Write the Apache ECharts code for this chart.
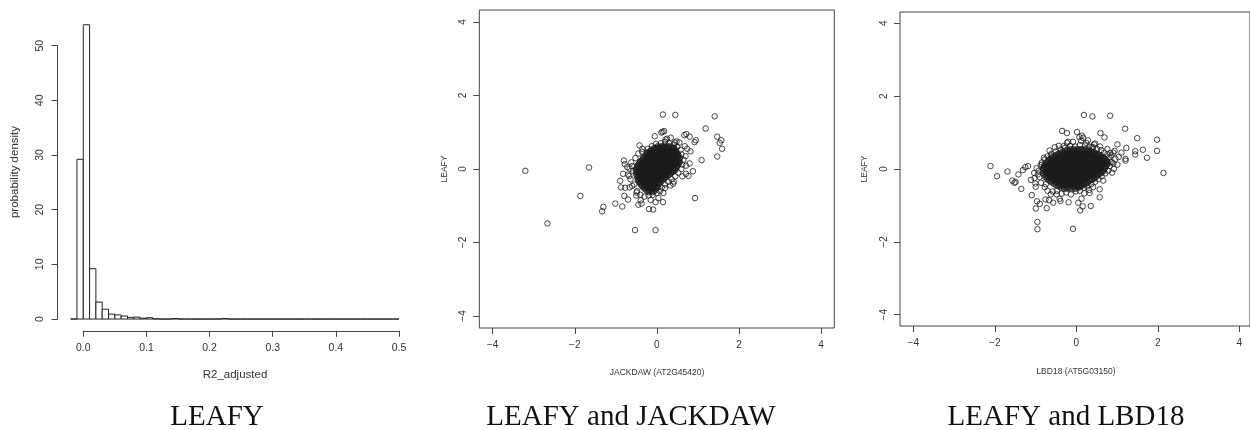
<!DOCTYPE html>
<html>
<head>
<meta charset="utf-8">
<script src="https://cdn.jsdelivr.net/npm/echarts@6/dist/echarts.min.js"></script>
<style>html,body{margin:0;padding:0;background:#fff}#c{width:1250px;height:430px}</style>
</head>
<body>
<div id="c"></div>
<script>
// ---------- DATA ----------
const panelTitles = ['LEAFY', 'LEAFY and JACKDAW', 'LEAFY and LBD18'];
const histXName = 'R2_adjusted';
const histYName = 'probability density';
const scatterXNames = ['JACKDAW (AT2G45420)', 'LBD18 (AT5G03150)'];
const scatterYName = 'LEAFY';

const histXTicks = [0, 0.1, 0.2, 0.3, 0.4, 0.5];
const histYTicks = [0, 10, 20, 30, 40, 50];
const scatterTicks = [-4, -2, 0, 2, 4];

const histBinStart = [-0.02,-0.01,0,0.01,0.02,0.03,0.04,0.05,0.06,0.07,0.08,0.09,0.10,0.11,0.12,0.13,0.14,0.15,0.16,0.17,0.18,0.19,0.20,0.21,0.22,0.23,0.24,0.25,0.26,0.27,0.28,0.29,0.30,0.31,0.32,0.33,0.34,0.35,0.36,0.37,0.38,0.39,0.40,0.41,0.42,0.43,0.44,0.45,0.46,0.47,0.48,0.49];
const histBinEnd   = [-0.01,0,0.01,0.02,0.03,0.04,0.05,0.06,0.07,0.08,0.09,0.10,0.11,0.12,0.13,0.14,0.15,0.16,0.17,0.18,0.19,0.20,0.21,0.22,0.23,0.24,0.25,0.26,0.27,0.28,0.29,0.30,0.31,0.32,0.33,0.34,0.35,0.36,0.37,0.38,0.39,0.40,0.41,0.42,0.43,0.44,0.45,0.46,0.47,0.48,0.49,0.50];
const histDensity  = [0,29.2,53.8,9.2,3.1,1.8,0.9,0.75,0.55,0.3,0.35,0.15,0.25,0.05,0,0,0.1,0,0,0,0,0,0,0,0.1,0,0,0,0,0,0,0,0,0,0,0,0,0,0,0,0,0,0,0,0,0,0,0,0,0,0,0];

// LEAFY vs JACKDAW : isolated points
const jackdawOutliers = [[-3.20,-0.05],[-2.66,-1.48],[-1.86,-0.73],[-1.65,0.04],[-1.30,-1.03],[-1.33,-1.15],[-1.01,-0.94],[-0.84,-1.02],[-0.53,-1.66],[-0.03,-1.66],[-0.19,-1.09],[-0.09,-1.10],[0.15,1.48],[0.45,1.47],[1.41,1.43],[1.19,1.10],[1.47,0.88],[1.57,0.78],[1.53,0.71],[1.59,0.55],[1.47,0.34],[1.09,0.24],[0.93,-0.79],[0.95,0.78],[0.92,0.73],[0.80,0.88],[0.72,0.95],[0.67,0.92],[0.14,1.01],[0.11,0.99],[0.18,1.03],[-0.05,0.89],[-0.42,0.64],[-0.36,0.47],[0.21,0.80],[0.34,0.85],[0.44,0.72],[0.82,0.48],[0.88,-0.06],[0.71,-0.13],[0.77,-0.19],[0.80,0.15],[0.71,0.09],[-0.80,0.23],[-0.78,0.13],[-0.82,-0.13],[-0.89,-0.32],[-0.87,-0.50],[-0.79,-0.73],[-0.70,-0.83],[-0.77,-0.51],[-0.67,-0.19],[-0.66,0.01],[-0.60,-0.46],[-0.49,-0.64],[-0.39,-0.85],[-0.45,-0.97],[-0.37,-0.94],[-0.15,-0.84],[0.04,-0.79],[0.15,-0.90],[-0.03,-0.90],[0.41,-0.34],[0.20,-0.52]];
// LEAFY vs JACKDAW : points around the dense core
const jackdawFringe = [[-0.62,0.18],[-0.58,-0.05],[-0.64,-0.28],[-0.55,-0.42],[-0.60,0.08],[-0.52,0.30],[-0.45,0.42],[-0.35,0.55],[-0.48,-0.60],[-0.40,-0.70],[-0.30,-0.75],[-0.20,-0.72],[-0.10,-0.70],[0.00,-0.65],[0.08,-0.60],[0.12,-0.50],[0.20,-0.42],[0.28,-0.35],[0.36,-0.28],[0.45,-0.20],[0.52,-0.10],[0.60,0.00],[0.62,0.12],[0.65,0.25],[0.60,0.40],[0.58,0.52],[0.50,0.60],[0.42,0.66],[0.30,0.70],[0.20,0.74],[0.10,0.70],[-0.02,0.68],[-0.12,0.62],[-0.22,0.55],[0.70,0.35],[0.74,0.55],[0.68,0.62],[0.55,0.72],[0.25,0.82],[0.00,0.58],[-0.70,-0.15],[-0.72,0.05],[-0.66,-0.50],[-0.50,-0.72],[0.33,-0.45],[0.62,-0.20],[0.48,0.75],[0.16,-0.65],[-0.25,0.45],[0.40,-0.40]];
// LEAFY vs JACKDAW : dense core, rows of [LEAFY value, [JACKDAW values]]
const jackdawCoreRows = [
 [0.62,[0.02,0.09,0.16,0.24,0.31]],
 [0.595,[0.05,0.13,0.20,0.28,0.35]],
 [0.57,[-0.06,0.03,0.11,0.19,0.27,0.36,0.42]],
 [0.545,[-0.10,-0.02,0.07,0.15,0.23,0.32,0.40]],
 [0.52,[-0.14,-0.07,0.01,0.08,0.15,0.22,0.30,0.37,0.45]],
 [0.49,[-0.16,-0.09,-0.01,0.06,0.13,0.21,0.28,0.35,0.43,0.47]],
 [0.46,[-0.18,-0.11,-0.03,0.04,0.12,0.19,0.26,0.33,0.41,0.48]],
 [0.435,[-0.21,-0.13,-0.06,0.02,0.09,0.17,0.24,0.31,0.38,0.46]],
 [0.41,[-0.24,-0.16,-0.09,-0.01,0.06,0.14,0.21,0.28,0.35,0.43,0.50]],
 [0.385,[-0.26,-0.19,-0.11,-0.04,0.04,0.11,0.18,0.26,0.33,0.41,0.48,0.52]],
 [0.36,[-0.28,-0.21,-0.13,-0.06,0.02,0.09,0.17,0.24,0.31,0.39,0.46,0.53]],
 [0.33,[-0.31,-0.23,-0.16,-0.08,-0.01,0.07,0.14,0.22,0.29,0.36,0.44,0.51]],
 [0.30,[-0.33,-0.25,-0.18,-0.10,-0.03,0.05,0.12,0.20,0.27,0.34,0.42,0.49,0.56]],
 [0.275,[-0.34,-0.27,-0.19,-0.12,-0.04,0.03,0.11,0.18,0.25,0.33,0.40,0.48,0.55]],
 [0.25,[-0.36,-0.29,-0.21,-0.14,-0.06,0.01,0.09,0.16,0.23,0.31,0.38,0.46,0.53]],
 [0.22,[-0.39,-0.31,-0.24,-0.16,-0.09,-0.01,0.06,0.14,0.21,0.29,0.36,0.44,0.51]],
 [0.19,[-0.41,-0.33,-0.26,-0.18,-0.11,-0.03,0.04,0.12,0.19,0.27,0.34,0.42,0.49,0.56]],
 [0.165,[-0.42,-0.35,-0.27,-0.20,-0.12,-0.05,0.03,0.10,0.18,0.25,0.32,0.40,0.47,0.54]],
 [0.14,[-0.44,-0.37,-0.29,-0.22,-0.14,-0.07,0.01,0.08,0.16,0.23,0.30,0.38,0.45,0.52]],
 [0.11,[-0.46,-0.38,-0.31,-0.23,-0.16,-0.08,-0.01,0.07,0.14,0.22,0.29,0.36,0.44,0.51]],
 [0.08,[-0.47,-0.39,-0.32,-0.24,-0.17,-0.09,-0.02,0.06,0.13,0.21,0.28,0.35,0.43,0.50]],
 [0.055,[-0.48,-0.41,-0.33,-0.26,-0.18,-0.11,-0.03,0.04,0.12,0.19,0.26,0.34,0.41,0.48]],
 [0.03,[-0.49,-0.42,-0.35,-0.27,-0.20,-0.12,-0.05,0.03,0.10,0.18,0.25,0.32,0.40,0.47]],
 [0.00,[-0.50,-0.43,-0.38,-0.31,-0.24,-0.16,-0.09,-0.01,0.06,0.14,0.21,0.28,0.36,0.43]],
 [-0.03,[-0.50,-0.43,-0.36,-0.28,-0.21,-0.13,-0.06,0.02,0.09,0.17,0.24,0.31,0.39,0.45]],
 [-0.055,[-0.47,-0.40,-0.32,-0.25,-0.17,-0.10,-0.02,0.05,0.13,0.20,0.27,0.35,0.41]],
 [-0.08,[-0.51,-0.44,-0.37,-0.29,-0.22,-0.14,-0.07,0.01,0.08,0.16,0.23,0.30,0.38]],
 [-0.11,[-0.47,-0.40,-0.33,-0.25,-0.18,-0.10,-0.03,0.05,0.12,0.20,0.27,0.34]],
 [-0.14,[-0.50,-0.43,-0.35,-0.28,-0.20,-0.13,-0.05,0.02,0.10,0.17,0.25,0.32]],
 [-0.165,[-0.46,-0.38,-0.31,-0.23,-0.16,-0.08,-0.01,0.06,0.14,0.21,0.29]],
 [-0.19,[-0.49,-0.42,-0.34,-0.27,-0.19,-0.12,-0.04,0.03,0.11,0.18,0.26]],
 [-0.22,[-0.45,-0.38,-0.30,-0.23,-0.15,-0.08,0.00,0.07,0.15,0.22]],
 [-0.25,[-0.47,-0.40,-0.32,-0.25,-0.17,-0.10,-0.02,0.05,0.13,0.20]],
 [-0.275,[-0.44,-0.36,-0.29,-0.21,-0.14,-0.06,0.01,0.09,0.16]],
 [-0.30,[-0.46,-0.38,-0.31,-0.23,-0.16,-0.08,-0.01,0.07,0.14]],
 [-0.33,[-0.42,-0.34,-0.27,-0.19,-0.12,-0.04,0.03,0.11]],
 [-0.36,[-0.43,-0.36,-0.28,-0.21,-0.13,-0.06,0.02,0.09]],
 [-0.385,[-0.39,-0.32,-0.24,-0.17,-0.09,-0.02,0.06]],
 [-0.41,[-0.40,-0.33,-0.25,-0.18,-0.10,-0.03,0.05]],
 [-0.44,[-0.36,-0.29,-0.21,-0.14,-0.06,0.02]],
 [-0.47,[-0.36,-0.29,-0.21,-0.14,-0.06,0.01]],
 [-0.495,[-0.33,-0.25,-0.18,-0.10,-0.03,0.03]],
 [-0.52,[-0.31,-0.24,-0.16,-0.09,-0.01]],
 [-0.55,[-0.28,-0.20,-0.13,-0.05]],
 [-0.58,[-0.25,-0.18,-0.10,-0.03]],
 [-0.605,[-0.22,-0.14,-0.07]],
 [-0.63,[-0.19,-0.11]]
];

// LEAFY vs LBD18 : isolated points
const lbd18Outliers = [[-2.09,0.08],[-1.93,-0.20],[-1.67,-0.07],[-1.55,-0.32],[-1.47,-0.36],[-1.50,-0.38],[-1.40,-0.15],[-1.33,-0.55],[-1.29,-0.03],[-1.23,0.05],[-1.16,0.08],[-1.09,-0.30],[-1.07,-0.72],[-1.01,-0.11],[-0.97,-0.49],[-0.97,-1.09],[-0.94,-0.89],[-0.87,-0.96],[-0.93,-1.46],[-0.93,-1.66],[-0.70,-1.08],[-0.73,-0.84],[-0.64,-0.86],[-0.54,-0.93],[-0.38,-0.82],[-0.36,-0.88],[-0.16,-0.92],[-0.05,-1.65],[0.08,-0.93],[0.13,-1.14],[0.19,-1.03],[0.16,-0.82],[0.39,-1.02],[0.36,-0.66],[0.23,-0.67],[0.61,-0.78],[0.61,-0.56],[0.22,1.49],[0.43,1.45],[0.87,1.47],[1.24,1.11],[1.54,0.85],[2.03,0.81],[2.03,0.50],[1.68,0.53],[1.78,0.31],[1.49,0.49],[1.49,0.40],[2.19,-0.11],[1.27,0.58],[1.25,0.28],[1.25,0.23],[1.15,0.45],[1.05,0.68],[0.98,0.50],[0.87,0.44],[0.96,0.00],[0.91,0.18],[0.63,0.99],[0.73,0.87],[0.05,1.02],[-0.32,1.05],[-0.20,0.99],[-0.17,0.75],[-0.28,0.63],[-0.40,0.64],[-0.63,0.51],[-0.60,0.37],[-0.77,0.31],[-0.82,0.12],[0.17,0.92],[0.20,0.86],[0.11,0.88],[0.47,0.68],[0.32,0.79],[0.41,0.60]];
// LEAFY vs LBD18 : points around the dense core
const lbd18Fringe = [[-0.90,-0.05],[-0.88,-0.22],[-0.85,0.10],[-0.84,-0.38],[-0.75,-0.50],[-0.68,-0.60],[-0.55,-0.62],[-0.45,-0.60],[-0.33,-0.68],[-0.22,-0.65],[-0.10,-0.70],[0.02,-0.62],[0.12,-0.60],[0.22,-0.52],[0.30,-0.48],[0.40,-0.42],[0.50,-0.35],[0.58,-0.28],[0.66,-0.20],[0.75,-0.12],[0.82,-0.05],[0.86,0.08],[0.88,0.20],[0.85,0.32],[0.80,0.40],[0.72,0.45],[0.65,0.52],[0.55,0.55],[0.45,0.60],[0.35,0.62],[0.25,0.65],[0.12,0.66],[0.00,0.62],[-0.12,0.64],[-0.25,0.58],[-0.35,0.54],[-0.48,0.48],[-0.58,0.42],[-0.68,0.35],[-0.75,0.26],[-0.82,0.18],[-0.92,-0.15],[-0.95,0.02],[0.95,0.15],[1.00,0.28],[1.05,0.12],[0.92,-0.10],[0.90,0.38],[-0.50,0.60],[-0.45,-0.70],[0.45,-0.50],[0.62,0.62],[0.28,0.72],[-0.05,0.75],[-0.20,0.72],[0.70,-0.32],[0.80,0.55],[1.08,0.33],[-1.00,-0.25],[-0.98,-0.40],[-0.60,-0.70],[0.15,0.78],[0.50,0.70],[0.95,0.45],[-0.72,-0.42],[0.35,-0.58]];
// LEAFY vs LBD18 : dense core, rows of [LEAFY value, [LBD18 values]]
const lbd18CoreRows = [
 [0.55,[-0.12,-0.03,0.06,0.15,0.24]],
 [0.525,[-0.20,-0.11,-0.02,0.07,0.16,0.25,0.33]],
 [0.50,[-0.25,-0.16,-0.07,0.02,0.11,0.20,0.29,0.38]],
 [0.47,[-0.32,-0.23,-0.14,-0.05,0.04,0.13,0.22,0.31,0.40,0.47]],
 [0.44,[-0.38,-0.29,-0.20,-0.11,-0.02,0.07,0.16,0.25,0.34,0.43,0.51]],
 [0.415,[-0.42,-0.33,-0.24,-0.15,-0.06,0.03,0.12,0.21,0.30,0.39,0.48,0.56]],
 [0.39,[-0.47,-0.38,-0.29,-0.20,-0.11,-0.02,0.07,0.16,0.25,0.34,0.43,0.52,0.60]],
 [0.36,[-0.51,-0.42,-0.33,-0.24,-0.15,-0.06,0.03,0.12,0.21,0.30,0.39,0.48,0.57,0.65]],
 [0.33,[-0.55,-0.46,-0.37,-0.28,-0.19,-0.10,-0.01,0.08,0.17,0.26,0.35,0.44,0.53,0.62,0.69]],
 [0.305,[-0.58,-0.49,-0.40,-0.31,-0.22,-0.13,-0.04,0.05,0.14,0.23,0.32,0.41,0.50,0.59,0.68,0.72]],
 [0.28,[-0.61,-0.52,-0.43,-0.34,-0.25,-0.16,-0.07,0.02,0.11,0.20,0.29,0.38,0.47,0.56,0.65,0.74]],
 [0.25,[-0.64,-0.55,-0.46,-0.37,-0.28,-0.19,-0.10,-0.01,0.08,0.17,0.26,0.35,0.44,0.53,0.62,0.71,0.77]],
 [0.22,[-0.66,-0.57,-0.48,-0.39,-0.30,-0.21,-0.12,-0.03,0.06,0.15,0.24,0.33,0.42,0.51,0.60,0.69,0.78]],
 [0.195,[-0.68,-0.59,-0.50,-0.41,-0.32,-0.23,-0.14,-0.05,0.04,0.13,0.22,0.31,0.40,0.49,0.58,0.67,0.76]],
 [0.17,[-0.70,-0.61,-0.52,-0.43,-0.34,-0.25,-0.16,-0.07,0.02,0.11,0.20,0.29,0.38,0.47,0.56,0.65,0.74,0.81]],
 [0.14,[-0.72,-0.63,-0.54,-0.45,-0.36,-0.27,-0.18,-0.09,0.00,0.09,0.18,0.27,0.36,0.45,0.54,0.63,0.72,0.80]],
 [0.11,[-0.74,-0.65,-0.56,-0.47,-0.38,-0.29,-0.20,-0.11,-0.02,0.07,0.16,0.25,0.34,0.43,0.52,0.61,0.70,0.79]],
 [0.085,[-0.76,-0.67,-0.58,-0.49,-0.40,-0.31,-0.22,-0.13,-0.04,0.05,0.14,0.23,0.32,0.41,0.50,0.59,0.68,0.77]],
 [0.06,[-0.77,-0.68,-0.59,-0.50,-0.41,-0.32,-0.23,-0.14,-0.05,0.04,0.13,0.22,0.31,0.40,0.49,0.58,0.67,0.76]],
 [0.03,[-0.78,-0.69,-0.60,-0.51,-0.42,-0.33,-0.24,-0.15,-0.06,0.03,0.12,0.21,0.30,0.39,0.48,0.57,0.66,0.74]],
 [0.00,[-0.79,-0.70,-0.61,-0.52,-0.43,-0.34,-0.25,-0.16,-0.07,0.02,0.11,0.20,0.29,0.38,0.47,0.56,0.65,0.73]],
 [-0.025,[-0.76,-0.67,-0.58,-0.49,-0.40,-0.31,-0.22,-0.13,-0.04,0.05,0.14,0.23,0.32,0.41,0.50,0.59,0.68]],
 [-0.05,[-0.80,-0.71,-0.62,-0.53,-0.44,-0.35,-0.26,-0.17,-0.08,0.01,0.10,0.19,0.28,0.37,0.46,0.55,0.64,0.71]],
 [-0.08,[-0.75,-0.66,-0.57,-0.48,-0.39,-0.30,-0.21,-0.12,-0.03,0.06,0.15,0.24,0.33,0.42,0.51,0.60,0.67]],
 [-0.11,[-0.79,-0.70,-0.61,-0.52,-0.43,-0.34,-0.25,-0.16,-0.07,0.02,0.11,0.20,0.29,0.38,0.47,0.56,0.65]],
 [-0.135,[-0.73,-0.64,-0.55,-0.46,-0.37,-0.28,-0.19,-0.10,-0.01,0.08,0.17,0.26,0.35,0.44,0.53,0.61]],
 [-0.16,[-0.77,-0.68,-0.59,-0.50,-0.41,-0.32,-0.23,-0.14,-0.05,0.04,0.13,0.22,0.31,0.40,0.49,0.58]],
 [-0.19,[-0.72,-0.63,-0.54,-0.45,-0.36,-0.27,-0.18,-0.09,0.00,0.09,0.18,0.27,0.36,0.45,0.54]],
 [-0.22,[-0.74,-0.65,-0.56,-0.47,-0.38,-0.29,-0.20,-0.11,-0.02,0.07,0.16,0.25,0.34,0.43,0.52]],
 [-0.245,[-0.70,-0.61,-0.52,-0.43,-0.34,-0.25,-0.16,-0.07,0.02,0.11,0.20,0.29,0.38,0.47]],
 [-0.27,[-0.69,-0.60,-0.51,-0.42,-0.33,-0.24,-0.15,-0.06,0.03,0.12,0.21,0.30,0.39,0.47]],
 [-0.30,[-0.65,-0.56,-0.47,-0.38,-0.29,-0.20,-0.11,-0.02,0.07,0.16,0.25,0.34,0.42]],
 [-0.33,[-0.63,-0.54,-0.45,-0.36,-0.27,-0.18,-0.09,0.00,0.09,0.18,0.27,0.36]],
 [-0.355,[-0.59,-0.50,-0.41,-0.32,-0.23,-0.14,-0.05,0.04,0.13,0.22,0.31]],
 [-0.38,[-0.56,-0.47,-0.38,-0.29,-0.20,-0.11,-0.02,0.07,0.16,0.25,0.32]],
 [-0.41,[-0.52,-0.43,-0.34,-0.25,-0.16,-0.07,0.02,0.11,0.20,0.27]],
 [-0.44,[-0.48,-0.39,-0.30,-0.21,-0.12,-0.03,0.06,0.15,0.22]],
 [-0.465,[-0.43,-0.34,-0.25,-0.16,-0.07,0.02,0.10,0.17]],
 [-0.49,[-0.38,-0.29,-0.20,-0.11,-0.02,0.07,0.13]],
 [-0.52,[-0.33,-0.24,-0.15,-0.06,0.03,0.09]],
 [-0.55,[-0.27,-0.18,-0.09,0.00]]
];

// ---------- BUILD ----------
function rowsToPoints(rows){ const out=[]; rows.forEach(r=>r[1].forEach(x=>out.push([x,r[0]]))); return out; }
const jackdawPoints = jackdawOutliers.concat(jackdawFringe, rowsToPoints(jackdawCoreRows));
const lbd18Points = lbd18Outliers.concat(lbd18Fringe, rowsToPoints(lbd18CoreRows));
const histData = histBinStart.map((s,i)=>[s, histBinEnd[i], histDensity[i]]);

const AX = '#444', TXT = '#333', SANS = '"Liberation Sans", Arial, sans-serif';
const minusFmt = v => String(v).replace('-', '\u2212');

const chart = echarts.init(document.getElementById('c'), null, {renderer:'canvas'});

const grids = [
  {left:57.5, top:13, width:354.7, height:317.8},
  {left:57.5, top:45.7, width:10, height:273.3},
  {left:83.3, top:320.8, width:315.7, height:10},
  {left:479.3, top:10, width:355, height:318, show:true, borderColor:AX, borderWidth:1, backgroundColor:'transparent'},
  {left:492.7, top:318, width:328.3, height:10},
  {left:479.3, top:22, width:10, height:294},
  {left:900, top:12, width:353, height:314, show:true, borderColor:AX, borderWidth:1, backgroundColor:'transparent'},
  {left:913.3, top:316, width:326, height:10},
  {left:900, top:23.3, width:10, height:291.4}
];

const hidden = (gi, min, max) => ({type:'value', gridIndex:gi, min, max, show:false});
const tickAxisX = (gi, ticks, fs, margin, fmt) => ({
  type:'value', gridIndex:gi, min:ticks[0], max:ticks[ticks.length-1], interval:ticks[1]-ticks[0],
  position:'bottom', axisLine:{show:gi===2, lineStyle:{color:AX, width:1}},
  axisTick:{show:true, length:6, inside:false, lineStyle:{color:AX, width:1}},
  axisLabel:{show:true, margin, fontSize:fs, color:TXT, fontFamily:SANS, formatter:fmt, showMinLabel:true, showMaxLabel:true},
  splitLine:{show:false}
});
const tickAxisY = (gi, ticks, fs, margin, fmt) => ({
  type:'value', gridIndex:gi, min:ticks[0], max:ticks[ticks.length-1], interval:ticks[1]-ticks[0],
  position:'left', axisLine:{show:gi===1, lineStyle:{color:AX, width:1}},
  axisTick:{show:true, length:6, inside:false, lineStyle:{color:AX, width:1}},
  axisLabel:{show:true, rotate:90, margin, fontSize:fs, color:TXT, fontFamily:SANS, formatter:fmt, showMinLabel:true, showMaxLabel:true},
  splitLine:{show:false}
});

const xAxes = [
  hidden(0, -0.0408, 0.5208),
  hidden(1, 0, 1),
  tickAxisX(2, histXTicks, 10.5, 12, v => v.toFixed(1)),
  hidden(3, -4.32, 4.32),
  tickAxisX(4, scatterTicks, 10, 12, minusFmt),
  hidden(5, 0, 1),
  hidden(6, -4.33, 4.33),
  tickAxisX(7, scatterTicks, 10, 12, minusFmt),
  hidden(8, 0, 1)
];
const yAxes = [
  hidden(0, -2.15, 55.95),
  tickAxisY(1, histYTicks, 10.5, 12, v => String(v)),
  hidden(2, 0, 1),
  hidden(3, -4.32, 4.32),
  hidden(4, 0, 1),
  tickAxisY(5, scatterTicks, 10, 11, minusFmt),
  hidden(6, -4.33, 4.33),
  hidden(7, 0, 1),
  tickAxisY(8, scatterTicks, 10, 11, minusFmt)
];

const scatterStyle = {color:'rgba(0,0,0,0)', borderColor:'#1a1a1a', borderWidth:1};
const serifTitle = {fontFamily:'"Liberation Serif", serif', fontSize:29, fontWeight:'normal', color:'#111'};

const option = {
  animation:false,
  backgroundColor:'#fff',
  grid:grids,
  xAxis:xAxes,
  yAxis:yAxes,
  title: [
    {text:panelTitles[0], left:212, top:398, textAlign:'center', textStyle:serifTitle},
    {text:panelTitles[1], left:626, top:398, textAlign:'center', textStyle:serifTitle},
    {text:panelTitles[2], left:1061, top:398, textAlign:'center', textStyle:serifTitle}
  ],
  graphic: [
    {type:'text', x:235, y:375, style:{text:histXName, align:'center', verticalAlign:'middle', fontSize:11.5, fontFamily:SANS, fill:TXT}},
    {type:'text', x:15, y:172, rotation:Math.PI/2, style:{text:histYName, align:'center', verticalAlign:'middle', fontSize:11.5, fontFamily:SANS, fill:TXT}},
    {type:'text', x:657, y:373, style:{text:scatterXNames[0], align:'center', verticalAlign:'middle', fontSize:8.5, fontFamily:SANS, fill:TXT}},
    {type:'text', x:445, y:169, rotation:Math.PI/2, style:{text:scatterYName, align:'center', verticalAlign:'middle', fontSize:8.5, fontFamily:SANS, fill:TXT}},
    {type:'text', x:1076, y:372, style:{text:scatterXNames[1], align:'center', verticalAlign:'middle', fontSize:8.5, fontFamily:SANS, fill:TXT}},
    {type:'text', x:865, y:169, rotation:Math.PI/2, style:{text:scatterYName, align:'center', verticalAlign:'middle', fontSize:8.5, fontFamily:SANS, fill:TXT}}
  ],
  series: [
    {
      type:'custom', xAxisIndex:0, yAxisIndex:0, data:histData, encode:{x:[0,1], y:2}, silent:true,
      renderItem:(params, api) => {
        const p0 = api.coord([api.value(0), api.value(2)]);
        const p1 = api.coord([api.value(1), 0]);
        return {type:'rect', shape:{x:p0[0], y:p0[1], width:p1[0]-p0[0], height:p1[1]-p0[1]},
                style:{fill:'#fff', stroke:'#222', lineWidth:1}};
      }
    },
    {type:'scatter', xAxisIndex:3, yAxisIndex:3, data:jackdawPoints, symbol:'circle', symbolSize:5.5, itemStyle:scatterStyle, silent:true},
    {type:'scatter', xAxisIndex:6, yAxisIndex:6, data:lbd18Points, symbol:'circle', symbolSize:5.5, itemStyle:scatterStyle, silent:true}
  ]
};
chart.setOption(option);
</script>
</body>
</html>
